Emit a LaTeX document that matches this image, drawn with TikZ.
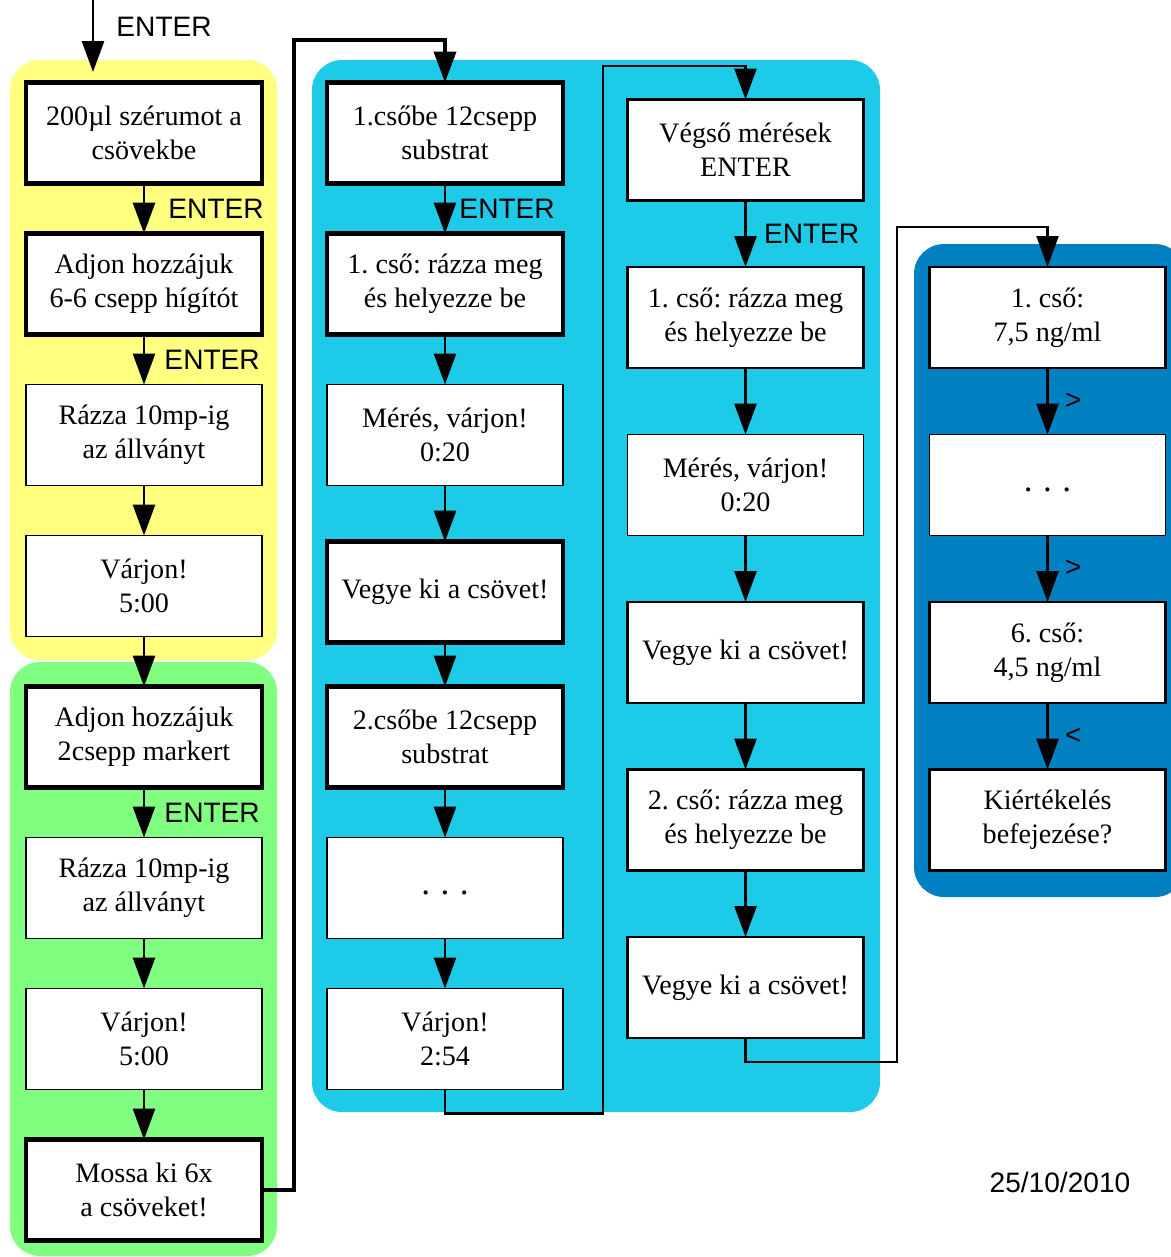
\documentclass[tikz,border=0pt]{standalone}
\usepackage{fontspec}
\setmainfont{Liberation Serif}
\setsansfont{Liberation Sans}
\usetikzlibrary{positioning,arrows.meta}
\definecolor{lemon}{HTML}{FFFF80}
\definecolor{mint}{HTML}{80FF80}
\definecolor{sky}{HTML}{1DCBE8}
\definecolor{ocean}{HTML}{0080C0}
\frenchspacing
\newcommand{\moredots}{\strut{\fontsize{20}{19.3}\selectfont.\hspace{0.3em}.\hspace{0.3em}.}}

\begin{document}
\begin{tikzpicture}[
    node distance=1cm,
    block/.style={rectangle, draw=black, fill=white, minimum height=2.02cm, minimum width=4.72cm, inner sep=0pt, outer sep=0pt, align=center, font=\fontsize{16}{19.3}\selectfont, line width=0.6pt},
    heavy/.style={block, line width=2.6pt},
    medium/.style={block, line width=1.5pt},
    arrow/.style={-{Triangle[length=0.62cm, width=0.44cm]}, line width=1.7pt, draw=black},
    key/.style={font=\sffamily\fontsize{16}{19}\selectfont, inner sep=0pt},
    panel/.style={rounded corners=0.6cm}
]
    \useasboundingbox (0,0) rectangle (23.42,-25.14);

    % Panels
    \fill[lemon, panel] (0.2,-1.2) rectangle (5.54,-13.2);
    \fill[mint, panel] (0.2,-13.24) rectangle (5.54,-25.12);
    \fill[sky, panel] (6.24,-1.2) rectangle (17.6,-22.24);
    \fill[ocean, panel] (18.28,-4.88) rectangle (23.7,-17.94);

    % Nodes
    \node[heavy] (serum) at (2.88,-2.66) {200µl szérumot a\\csövekbe};
    \node[heavy, below=of serum] (dilute) {Adjon hozzájuk\\6-6 csepp hígítót};
    \node[block, below=of dilute] (shake1) {Rázza 10mp-ig\\az állványt};
    \node[block, below=of shake1] (wait1) {Várjon!\\5:00};
    \node[heavy, below=of wait1] (marker) {Adjon hozzájuk\\2csepp markert};
    \node[block, below=of marker] (shake2) {Rázza 10mp-ig\\az állványt};
    \node[block, below=of shake2] (wait2) {Várjon!\\5:00};
    \node[heavy, below=of wait2] (wash) {Mossa ki 6x\\a csöveket!};

    \node[heavy] (sub1) at (8.90,-2.66) {1.csőbe 12csepp\\substrat};
    \node[heavy, below=of sub1] (place1) {1. cső: rázza meg\\és helyezze be};
    \node[block, below=of place1] (meas1) {Mérés, várjon!\\0:20};
    \node[heavy, below=1.12cm of meas1] (take1) {Vegye ki a csövet!};
    \node[heavy, below=0.88cm of take1] (sub2) {2.csőbe 12csepp\\substrat};
    \node[block, below=of sub2] (more1) {\moredots};
    \node[block, below=of more1] (wait3) {Várjon!\\2:54};

    \node[medium] (final) at (14.91,-3.00) {Végső mérések\\ENTER};
    \node[medium, below=1.33cm of final] (place2) {1. cső: rázza meg\\és helyezze be};
    \node[block, below=1.33cm of place2] (meas2) {Mérés, várjon!\\0:20};
    \node[medium, below=1.33cm of meas2] (take2) {Vegye ki a csövet!};
    \node[medium, below=1.33cm of take2] (place3) {2. cső: rázza meg\\és helyezze be};
    \node[medium, below=1.33cm of place3] (take3) {Vegye ki a csövet!};

    \node[medium] (res1) at (20.95,-6.35) {1. cső:\\7,5 ng/ml};
    \node[block, below=1.33cm of res1] (more2) {\moredots};
    \node[medium, below=1.33cm of more2] (res6) {6. cső:\\4,5 ng/ml};
    \node[medium, below=1.33cm of res6] (done) {Kiértékelés\\befejezése?};

    \node[key] (date) at (21.2,-23.64) {25/10/2010};

    % Arrows
    \coordinate (start) at (1.86,0);
    \coordinate (startend) at (1.86,-1.44);
    \draw[arrow] (start) -- node[key, pos=0.37, right=0.44cm] {ENTER} (startend);
    \draw[arrow] (serum) -- node[key, right=0.46cm] {ENTER} (dilute);
    \draw[arrow] (dilute) -- node[key, right=0.38cm] {ENTER} (shake1);
    \draw[arrow] (shake1) -- (wait1);
    \draw[arrow] (wait1) -- (marker);
    \draw[arrow] (marker) -- node[key, right=0.38cm] {ENTER} (shake2);
    \draw[arrow] (shake2) -- (wait2);
    \draw[arrow] (wait2) -- (wash);

    \draw[arrow] (sub1) -- node[key, right=0.26cm] {ENTER} (place1);
    \draw[arrow] (place1) -- (meas1);
    \draw[arrow] (meas1) -- (take1);
    \draw[arrow] (take1) -- (sub2);
    \draw[arrow] (sub2) -- (more1);
    \draw[arrow] (more1) -- (wait3);

    \draw[arrow] (final) -- node[key, right=0.34cm] {ENTER} (place2);
    \draw[arrow] (place2) -- (meas2);
    \draw[arrow] (meas2) -- (take2);
    \draw[arrow] (take2) -- (place3);
    \draw[arrow] (place3) -- (take3);

    \draw[arrow] (res1) -- node[key, right=0.32cm] {>} (more2);
    \draw[arrow] (more2) -- node[key, right=0.32cm] {>} (res6);
    \draw[arrow] (res6) -- node[key, right=0.32cm] {<} (done);

    % Links between columns
    \draw[arrow, line width=2.3pt] (wash.east) -| (5.88,-0.8) -| (sub1.north);
    \draw[arrow, line width=1.5pt] (wait3.south) -- ++(0,-0.48) -| (12.06,-1.32) -| (final.north);
    \draw[arrow, line width=1.2pt] (take3.south) -- ++(0,-0.48) -| (17.94,-4.54) -| (res1.north);
\end{tikzpicture}
\end{document}
